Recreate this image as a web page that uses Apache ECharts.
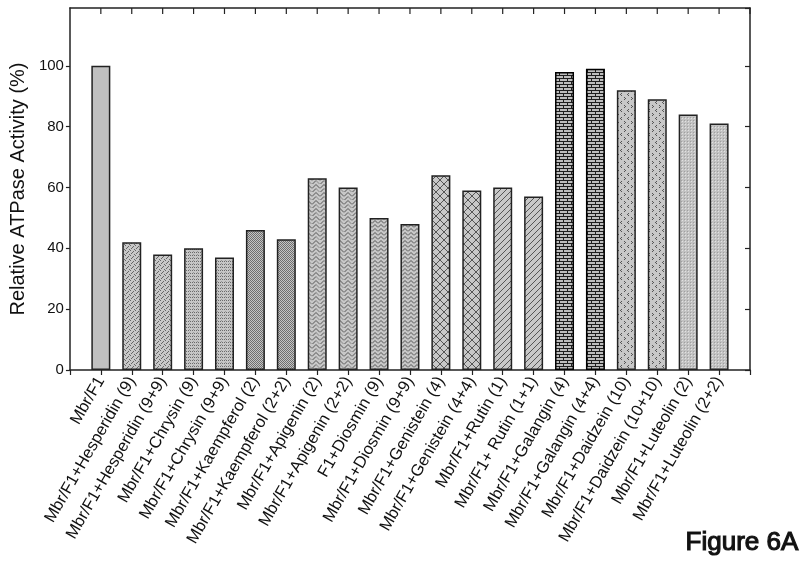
<!DOCTYPE html>
<html>
<head>
<meta charset="utf-8">
<script src="https://cdn.jsdelivr.net/npm/echarts@6/dist/echarts.min.js"></script>
<style>
  html, body { margin: 0; padding: 0; background: #fff; }
  #chart { width: 800px; height: 562px; }
</style>
</head>
<body>
<div id="chart"></div>
<script>
// data
const categories = [
  'Mbr/F1',
  'Mbr/F1+Hesperidin (9)',
  'Mbr/F1+Hesperidin (9+9)',
  'Mbr/F1+Chrysin (9)',
  'Mbr/F1+Chrysin (9+9)',
  'Mbr/F1+Kaempferol (2)',
  'Mbr/F1+Kaempferol (2+2)',
  'Mbr/F1+Apigenin (2)',
  'Mbr/F1+Apigenin (2+2)',
  'F1+Diosmin (9)',
  'Mbr/F1+Diosmin (9+9)',
  'Mbr/F1+Genistein (4)',
  'Mbr/F1+Genistein (4+4)',
  'Mbr/F1+Rutin (1)',
  'Mbr/F1+ Rutin (1+1)',
  'Mbr/F1+Galangin (4)',
  'Mbr/F1+Galangin (4+4)',
  'Mbr/F1+Daidzein (10)',
  'Mbr/F1+Daidzein (10+10)',
  'Mbr/F1+Luteolin (2)',
  'Mbr/F1+Luteolin (2+2)'
];
const activity = [100, 42, 38, 40, 37, 46, 43, 63, 60, 50, 48, 64, 59, 60, 57, 98, 99, 92, 89, 84, 81];
const yMin = 0, yMax = 119, yStep = 20;

// fill pattern per bar (style only)
const fills = ['solid', 'speckle', 'speckle', 'rows', 'rows', 'checker', 'checker',
  'weave', 'weave', 'zigzag', 'zigzag', 'lattice', 'lattice', 'diagonal', 'diagonal',
  'brick', 'brick', 'marks', 'marks', 'fine', 'fine'];

const FONT = 'Liberation Sans, Arial, Helvetica, sans-serif';

function pattern(kind) {
  if (kind === 'solid') return '#c0c0c0';
  const c = document.createElement('canvas');
  const ctx = c.getContext('2d');
  const dot = (x, y, col) => { ctx.fillStyle = col; ctx.fillRect(x, y, 1, 1); };
  const line = (pts, col) => {
    ctx.strokeStyle = col; ctx.lineWidth = 1; ctx.beginPath();
    pts.forEach((p, i) => i ? ctx.lineTo(p[0], p[1]) : ctx.moveTo(p[0], p[1]));
    ctx.stroke();
  };
  const bg = (w, h, col) => { c.width = w; c.height = h; ctx.fillStyle = col; ctx.fillRect(0, 0, w, h); };

  if (kind === 'speckle') {
    bg(5, 5, '#c8c8c8');
    [[0, 0], [3, 1], [1, 3], [4, 4], [2, 2]].forEach(p => dot(p[0], p[1], '#666'));
  } else if (kind === 'rows') {
    bg(4, 3, '#c6c6c6');
    dot(0, 0, '#6a6a6a'); dot(2, 0, '#6a6a6a'); dot(1, 2, '#999');
  } else if (kind === 'checker') {
    bg(2, 2, '#c4c4c4');
    dot(0, 0, '#6e6e6e'); dot(1, 1, '#6e6e6e');
  } else if (kind === 'weave') {
    bg(8, 8, '#c8c8c8');
    line([[0, 4.5], [4, 0.5]], '#555');
    line([[4, 0.5], [8, 4.5]], '#555');
    line([[0, 8.5], [4, 4.5]], '#555');
    line([[4, 4.5], [8, 8.5]], '#888');
  } else if (kind === 'zigzag') {
    bg(6, 4, '#c8c8c8');
    line([[0, 3.5], [3, 0.5], [6, 3.5]], '#555');
  } else if (kind === 'lattice') {
    bg(8, 8, '#c8c8c8');
    line([[0, 4], [4, 0], [8, 4], [4, 8], [0, 4]], '#555');
  } else if (kind === 'diagonal') {
    bg(6, 6, '#c8c8c8');
    line([[0, 6], [6, 0]], '#555');
    line([[-3, 3], [3, -3]], '#888');
    line([[3, 9], [9, 3]], '#888');
  } else if (kind === 'brick') {
    bg(8, 6, '#1e1e1e');
    ctx.fillStyle = '#bdbdbd';
    ctx.fillRect(0, 1, 7, 2);
    ctx.fillRect(4, 4, 4, 2);
    ctx.fillRect(0, 4, 3, 2);
  } else if (kind === 'marks') {
    bg(7, 8, '#c8c8c8');
    [[1, 1], [2, 2], [1, 3], [5, 5], [4, 6], [5, 7]].forEach(p => dot(p[0], p[1], '#555'));
  } else if (kind === 'fine') {
    bg(3, 3, '#c2c2c2');
    dot(1, 1, '#e2e2e2'); dot(0, 0, '#a0a0a0');
  }
  return { image: c, repeat: 'repeat' };
}

// pad one empty slot on each side so bars sit away from the frame
const xData = [''].concat(categories, ['']);
const barData = [null].concat(activity.map((v, i) => ({
  value: v,
  itemStyle: { color: pattern(fills[i]), borderColor: fills[i] === 'brick' ? '#000' : '#222', borderWidth: 1.5 }
})), [null]);

const chart = echarts.init(document.getElementById('chart'), null, { renderer: 'canvas' });

const lineStyle = { color: '#222', width: 1.5 };
const tickStyle = { color: '#222', width: 1.2 };

chart.setOption({
  animation: false,
  backgroundColor: '#fff',
  grid: { left: 67, right: 50, top: 8, bottom: 192 },
  xAxis: [
    {
      type: 'category',
      data: xData,
      boundaryGap: false,
      axisLine: { show: true, onZero: false, lineStyle: lineStyle },
      axisTick: { show: true, interval: 0, inside: false, length: 5, lineStyle: tickStyle },
      axisLabel: {
        interval: 0, rotate: 60, margin: 8,
        color: '#111', fontFamily: FONT, fontSize: 16.5
      },
      splitLine: { show: false }
    },
    {
      // top frame line
      type: 'category',
      data: xData,
      position: 'top',
      boundaryGap: false,
      axisLine: { show: true, onZero: false, lineStyle: lineStyle },
      axisTick: { show: false },
      axisLabel: { show: false },
      splitLine: { show: false }
    }
  ],
  yAxis: [
    {
      type: 'value',
      min: yMin, max: yMax, interval: yStep,
      name: 'Relative ATPase Activity (%)',
      nameLocation: 'middle',
      nameGap: 41,
      nameTextStyle: { fontFamily: FONT, fontSize: 20, color: '#111' },
      axisLine: { show: true, onZero: false, lineStyle: lineStyle },
      axisTick: { show: true, inside: false, length: 4, lineStyle: tickStyle },
      axisLabel: { margin: 6, color: '#111', fontFamily: FONT, fontSize: 15, showMaxLabel: false },
      splitLine: { show: false }
    },
    {
      type: 'value',
      position: 'right',
      min: yMin, max: yMax, interval: yStep,
      axisLine: { show: true, onZero: false, lineStyle: lineStyle },
      axisTick: { show: true, inside: true, length: 5, lineStyle: tickStyle },
      axisLabel: { show: false },
      splitLine: { show: false }
    }
  ],
  series: [
    {
      type: 'bar',
      xAxisIndex: 0,
      yAxisIndex: 0,
      barWidth: 19,
      data: barData
    }
  ],
  graphic: [
    {
      id: 'fig-label',
      type: 'text',
      left: 685,
      top: 529,
      style: { text: 'Figure 6A', font: '26px ' + FONT, fill: '#111' }
    }
  ]
});

// inward tick marks along the top frame, placed through the chart's own scales
const topY = chart.convertToPixel({ yAxisIndex: 0 }, yMax);
const topTicks = xData.map((_, i) => {
  const x = chart.convertToPixel({ xAxisIndex: 0 }, i);
  return {
    type: 'line',
    silent: true,
    z: 10,
    shape: { x1: x, y1: topY, x2: x, y2: topY + 6 },
    style: { stroke: '#222', lineWidth: 1.2 }
  };
});
chart.setOption({ graphic: topTicks });
</script>
</body>
</html>
